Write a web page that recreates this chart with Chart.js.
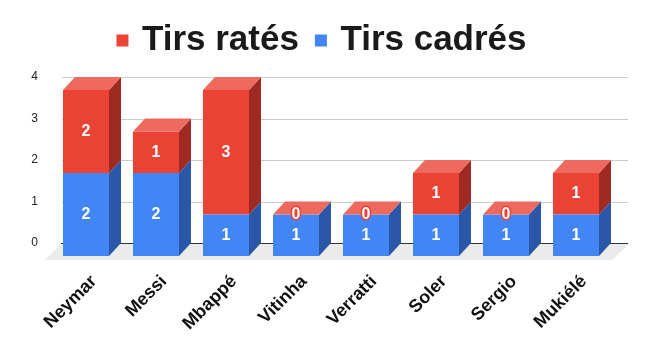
<!DOCTYPE html>
<html>
<head>
<meta charset="utf-8">
<script src="https://cdn.jsdelivr.net/npm/chart.js@4/dist/chart.umd.min.js"></script>
<style>html,body{margin:0;padding:0;background:#fff;}canvas{display:block;}</style>
</head>
<body>
<canvas id="c" width="647" height="354"></canvas>
<script>
const categories = ['Neymar', 'Messi', 'Mbappé', 'Vitinha', 'Verratti', 'Soler', 'Sergio', 'Mukiélé'];
const tirsCadres = [2, 2, 1, 1, 1, 1, 1, 1];
const tirsRates = [2, 1, 3, 0, 0, 1, 0, 1];
const yTicks = [0, 1, 2, 3, 4];

const FONT = '"Liberation Sans", Arial, sans-serif';
const DX = 12, DY = 13;

const faceColors = [
  { side: '#2B57A8', top: '#6FA0F6' },
  { side: '#9E2A22', top: '#EE6A5F' }
];

const threeD = {
  id: 'threeD',
  beforeDatasetsDraw(chart) {
    const { ctx, chartArea: a, scales: { y } } = chart;
    const y0 = y.getPixelForValue(0);
    ctx.save();
    ctx.fillStyle = '#ebebeb';
    ctx.beginPath();
    ctx.moveTo(a.left + 11, y0 - DY);
    ctx.lineTo(a.right + 19, y0 - DY);
    ctx.lineTo(a.right + 1, y0 + 4);
    ctx.lineTo(a.left - 6, y0 + 4);
    ctx.closePath();
    ctx.fill();
    yTicks.forEach(v => {
      const py = Math.round(y.getPixelForValue(v) - DY) + 0.5;
      ctx.strokeStyle = v === 0 ? '#333333' : '#cccccc';
      ctx.lineWidth = 1;
      ctx.beginPath();
      ctx.moveTo(a.left + (v === 0 ? 10 : 11), py);
      ctx.lineTo(a.right + 17, py);
      ctx.stroke();
    });
    ctx.restore();
  },
  afterDatasetsDraw(chart) {
    const { ctx } = chart;
    const n = chart.data.datasets.length;
    ctx.save();
    for (let d = 0; d < n; d++) {
      const meta = chart.getDatasetMeta(d);
      meta.data.forEach(el => {
        const p = el.getProps(['x', 'y', 'base', 'width'], true);
        const l = p.x - p.width / 2, r = p.x + p.width / 2;
        const t = Math.min(p.y, p.base), b = Math.max(p.y, p.base);
        if (b - t > 0) {
          ctx.fillStyle = faceColors[d].side;
          ctx.beginPath();
          ctx.moveTo(r, t); ctx.lineTo(r + DX, t - DY); ctx.lineTo(r + DX, b - DY); ctx.lineTo(r, b);
          ctx.closePath(); ctx.fill();
        }
        if (d === n - 1) {
          ctx.fillStyle = faceColors[d].top;
          ctx.beginPath();
          ctx.moveTo(l, t); ctx.lineTo(l + DX, t - DY); ctx.lineTo(r + DX, t - DY); ctx.lineTo(r, t);
          ctx.closePath(); ctx.fill();
        }
      });
    }
    ctx.font = 'bold 16px ' + FONT;
    ctx.textAlign = 'center';
    ctx.textBaseline = 'middle';
    ctx.lineJoin = 'round';
    for (let d = 0; d < n; d++) {
      const ds = chart.data.datasets[d];
      const meta = chart.getDatasetMeta(d);
      meta.data.forEach((el, i) => {
        const p = el.getProps(['x', 'y', 'base'], true);
        const cy = (p.y + p.base) / 2;
        const txt = String(ds.data[i]);
        ctx.strokeStyle = ds.backgroundColor;
        ctx.lineWidth = 3;
        ctx.strokeText(txt, p.x, cy);
        ctx.fillStyle = '#ffffff';
        ctx.fillText(txt, p.x, cy);
      });
    }
    ctx.restore();
  }
};

new Chart(document.getElementById('c'), {
  type: 'bar',
  data: {
    labels: categories,
    datasets: [
      { label: 'Tirs cadrés', data: tirsCadres, backgroundColor: '#4285F4' },
      { label: 'Tirs ratés', data: tirsRates, backgroundColor: '#EA4335' }
    ]
  },
  options: {
    responsive: false,
    animation: false,
    layout: { padding: { top: 3, right: 0, left: 0, bottom: 0 } },
    datasets: { bar: { categoryPercentage: 1, barPercentage: 46 / 70 } },
    plugins: {
      legend: {
        position: 'top',
        reverse: true,
        labels: {
          usePointStyle: true, pointStyle: 'rect',
          boxWidth: 4, boxHeight: 12, padding: 20,
          color: '#1a1a1a',
          font: { family: FONT, size: 35, weight: 'bold' }
        }
      },
      subtitle: {
        display: true, text: '', weight: 100,
        font: { size: 10 }, padding: { top: 2, bottom: 8 }
      },
      tooltip: { enabled: false }
    },
    scales: {
      x: {
        stacked: true,
        grid: { display: false },
        border: { display: false },
        ticks: {
          autoSkip: false, maxRotation: 45, minRotation: 45,
          labelOffset: 8, padding: 7,
          color: '#111111',
          font: { family: FONT, size: 18, weight: 'bold' }
        },
        afterFit(s) { s.height = 98; }
      },
      y: {
        stacked: true,
        min: 0, max: 4,
        grid: { display: false, drawTicks: false },
        border: { display: false },
        ticks: {
          stepSize: 1, padding: 13, labelOffset: -DY,
          color: '#222222',
          font: { family: FONT, size: 12 }
        },
        afterBuildTicks(s) { s.ticks = yTicks.map(v => ({ value: v })); },
        afterFit(s) { s.width = 51; }
      },
      yRight: {
        position: 'right',
        display: true,
        grid: { display: false, drawTicks: false },
        border: { display: false },
        ticks: { display: false },
        afterFit(s) { s.width = 36; }
      }
    }
  },
  plugins: [threeD]
});
</script>
</body>
</html>
